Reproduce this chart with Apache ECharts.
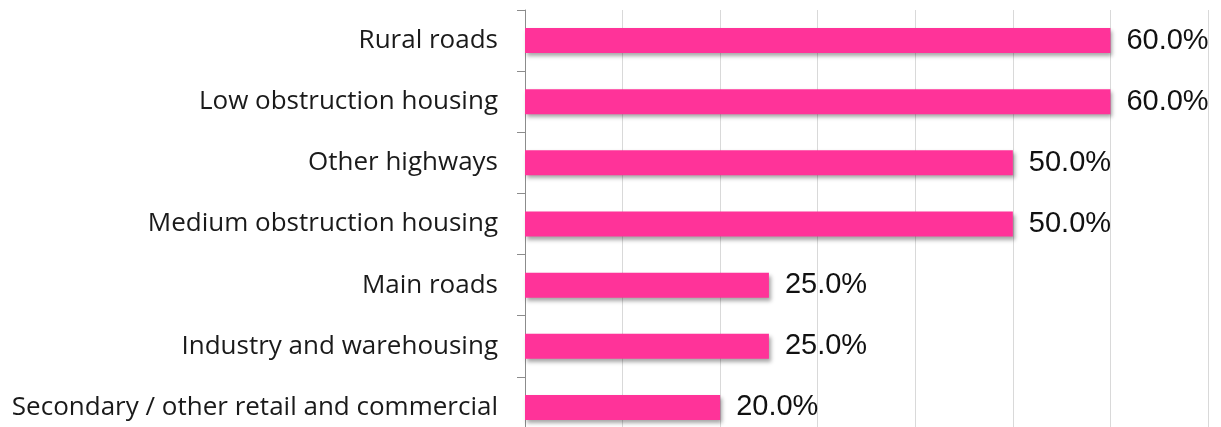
<!DOCTYPE html>
<html>
<head>
    <meta charset="utf-8">
    <script src="https://cdn.jsdelivr.net/npm/echarts@6/dist/echarts.min.js"></script>
    <style>
        html, body { margin: 0; padding: 0; background: #fff; }
    </style>
</head>
<body>
    <div id="main" style="width:1221px;height:427px;"></div>
</body>
<script type="text/javascript">
    // categories bottom-to-top, as the category axis draws them
    var categories = [
        'Secondary / other retail and commercial',
        'Industry and warehousing',
        'Main roads',
        'Medium obstruction housing',
        'Other highways',
        'Low obstruction housing',
        'Rural roads'
    ];
    var values = [20, 25, 25, 50, 50, 60, 60];

    var myChart = echarts.init(document.getElementById('main'));

    myChart.setOption({
        animation: false,
        backgroundColor: '#fff',
        grid: {
            left: 525,
            right: 13,
            top: 10,
            bottom: -11,
            outerBoundsMode: 'none'
        },
        xAxis: {
            type: 'value',
            min: 0,
            max: 70,
            interval: 10,
            axisLine: { show: false },
            axisTick: { show: false },
            axisLabel: { show: false },
            splitLine: { lineStyle: { color: '#d9d9d9', width: 1 } }
        },
        yAxis: {
            type: 'category',
            data: categories,
            axisLine: { show: true, lineStyle: { color: '#8c8c8c', width: 1 } },
            axisTick: { show: true, length: 8, lineStyle: { color: '#8c8c8c' } },
            axisLabel: {
                margin: 27,
                color: '#1a1a1a',
                fontFamily: 'Open Sans',
                fontSize: 26
            }
        },
        series: [{
            type: 'bar',
            data: values,
            barWidth: 25,
            itemStyle: {
                color: '#ff3399',
                shadowColor: 'rgba(0,0,0,0.35)',
                shadowBlur: 4,
                shadowOffsetX: 2,
                shadowOffsetY: 3
            },
            label: {
                show: true,
                position: 'right',
                distance: 16,
                color: '#111',
                fontFamily: 'Liberation Sans',
                fontSize: 29,
                formatter: function (p) { return p.value.toFixed(1) + '%'; }
            }
        }]
    });
</script>
</html>
